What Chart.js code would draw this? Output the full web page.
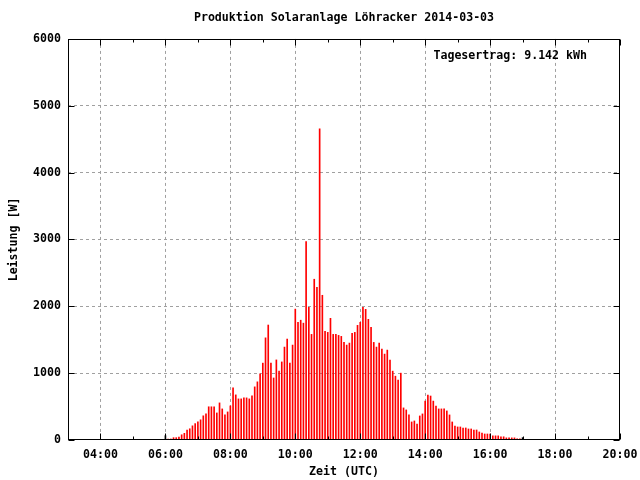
<!DOCTYPE html>
<html>
<head>
<meta charset="utf-8">
<script src="https://cdn.jsdelivr.net/npm/chart.js@4.4.1/dist/chart.umd.min.js"></script>
<style>
  html, body { margin: 0; padding: 0; background: #fff; }
</style>
</head>
<body>
<canvas id="chart" width="640" height="480"></canvas>
<script>
// Leistung in W, 5-Minuten-Werte ab 06:05 UTC
const startMinute = 6 * 60 + 5;
const stepMinutes = 5;
const leistung = [
  15, 15, 35, 35, 45, 78, 100, 150, 168, 212,
  245, 272, 302, 362, 392, 497, 497, 497, 405, 555,
  465, 375, 420, 510, 780, 675, 615, 615, 630, 630,
  615, 660, 795, 870, 990, 1150, 1528, 1720, 1150, 928,
  1198, 1032, 1168, 1390, 1510, 1150, 1420, 1958, 1762, 1792,
  1748, 2970, 1985, 1580, 2405, 2285, 4655, 2165, 1625, 1610,
  1820, 1580, 1580, 1565, 1550, 1460, 1420, 1450, 1595, 1610,
  1715, 1760, 1985, 1955, 1805, 1685, 1460, 1390, 1450, 1360,
  1285, 1345, 1195, 1030, 955, 895, 1000, 480, 450, 375,
  270, 285, 240, 360, 390, 582, 672, 658, 582, 508,
  465, 465, 465, 435, 375, 270, 210, 195, 195, 180,
  180, 165, 165, 150, 150, 120, 105, 90, 90, 88,
  62, 62, 62, 48, 48, 32, 32, 32, 32, 18,
  18
];
// schwarze Werte am Anfang und Ende
const markerZeiten = [6 * 60, 17 * 60];
const markerWerte = [65, 35];

const xMin = 3 * 60, xMax = 20 * 60;
const yTicks = [0, 1000, 2000, 3000, 4000, 5000, 6000];
const titel = 'Produktion Solaranlage Löhracker 2014-03-03';
const tagesertrag = 'Tagesertrag: 9.142 kWh';

const FONT = "'DejaVu Sans Mono', monospace";
Chart.defaults.font.family = FONT;
Chart.defaults.font.size = 11.6;
Chart.defaults.font.weight = 'bold';
Chart.defaults.color = '#000';

function hhmm(min) {
  const h = Math.floor(min / 60), m = min % 60;
  return String(h).padStart(2, '0') + ':' + String(m).padStart(2, '0');
}

const punkte = leistung.map((v, i) => ({ x: startMinute + i * stepMinutes, y: v }));
const marker = markerWerte.map((v, i) => ({ x: markerZeiten[i], y: v }));

// Rahmen, Tics nach innen und Tagesertrag wie bei gnuplot
const rahmen = {
  id: 'rahmen',
  afterDatasetsDraw(chart) {
    const { ctx, chartArea: a, scales: { x, y } } = chart;
    const l = Math.round(a.left) + 0.5, r = Math.round(a.right) - 0.5;
    const t = Math.round(a.top) + 0.5, b = Math.round(a.bottom) - 0.5;
    ctx.save();
    ctx.strokeStyle = '#000';
    ctx.lineWidth = 1;
    ctx.beginPath();
    x.ticks.forEach(tk => {
      const px = Math.round(x.getPixelForValue(tk.value)) + 0.5;
      const len = tk.value % 120 === 0 ? 6 : 3;
      ctx.moveTo(px, b); ctx.lineTo(px, b - len);
      ctx.moveTo(px, t); ctx.lineTo(px, t + len);
    });
    y.ticks.forEach(tk => {
      const py = Math.round(y.getPixelForValue(tk.value)) + 0.5;
      ctx.moveTo(l, py); ctx.lineTo(l + 6, py);
      ctx.moveTo(r, py); ctx.lineTo(r - 6, py);
    });
    ctx.stroke();
    ctx.strokeRect(l, t, r - l, b - t);
    ctx.font = 'bold 11.6px ' + FONT;
    ctx.fillStyle = '#000';
    ctx.textAlign = 'right';
    ctx.textBaseline = 'middle';
    ctx.fillText(tagesertrag, a.right - 33, a.top + 17);
    ctx.restore();
  }
};

new Chart(document.getElementById('chart'), {
  type: 'bar',
  data: {
    datasets: [
      { data: punkte, backgroundColor: '#ff0000', barThickness: 1, grouped: false },
      { data: marker, backgroundColor: '#000000', barThickness: 1, grouped: false }
    ]
  },
  options: {
    responsive: false,
    animation: false,
    layout: { padding: { left: 0, right: 20, top: 0, bottom: 0 } },
    plugins: {
      legend: { display: false },
      tooltip: { enabled: false },
      title: {
        display: true,
        text: titel,
        fullSize: false,
        padding: { top: 11, bottom: 14 },
        font: { size: 11.6, weight: 'bold' }
      }
    },
    scales: {
      x: {
        type: 'linear',
        min: xMin,
        max: xMax,
        offset: false,
        afterFit: s => { s.height = 40; s.paddingLeft = 0; s.paddingRight = 20; },
        ticks: {
          stepSize: 60,
          autoSkip: false,
          maxRotation: 0,
          padding: 8,
          callback: v => (v % 120 === 0 && v > xMin) ? hhmm(v) : ''
        },
        grid: {
          drawTicks: false,
          offset: false,
          color: c => (c.tick && c.tick.value % 120 === 0 && c.tick.value > xMin && c.tick.value < xMax) ? '#a0a0a0' : 'rgba(0,0,0,0)'
        },
        border: { display: false, dash: [3, 3] },
        title: { display: true, text: 'Zeit (UTC)', padding: { top: 0, bottom: 1 } }
      },
      y: {
        min: 0,
        max: 6000,
        afterFit: s => { s.width = 68; s.paddingTop = 0; s.paddingBottom = 0; },
        afterBuildTicks: s => { s.ticks = yTicks.map(v => ({ value: v })); },
        ticks: {
          padding: 7,
          callback: v => String(v)
        },
        grid: {
          drawTicks: false,
          color: c => (c.tick && c.tick.value > 0 && c.tick.value < 6000) ? '#a0a0a0' : 'rgba(0,0,0,0)'
        },
        border: { display: false, dash: [3, 3] },
        title: { display: true, text: 'Leistung [W]', padding: { top: 7, bottom: 0 } }
      }
    }
  },
  plugins: [rahmen]
});
</script>
</body>
</html>
